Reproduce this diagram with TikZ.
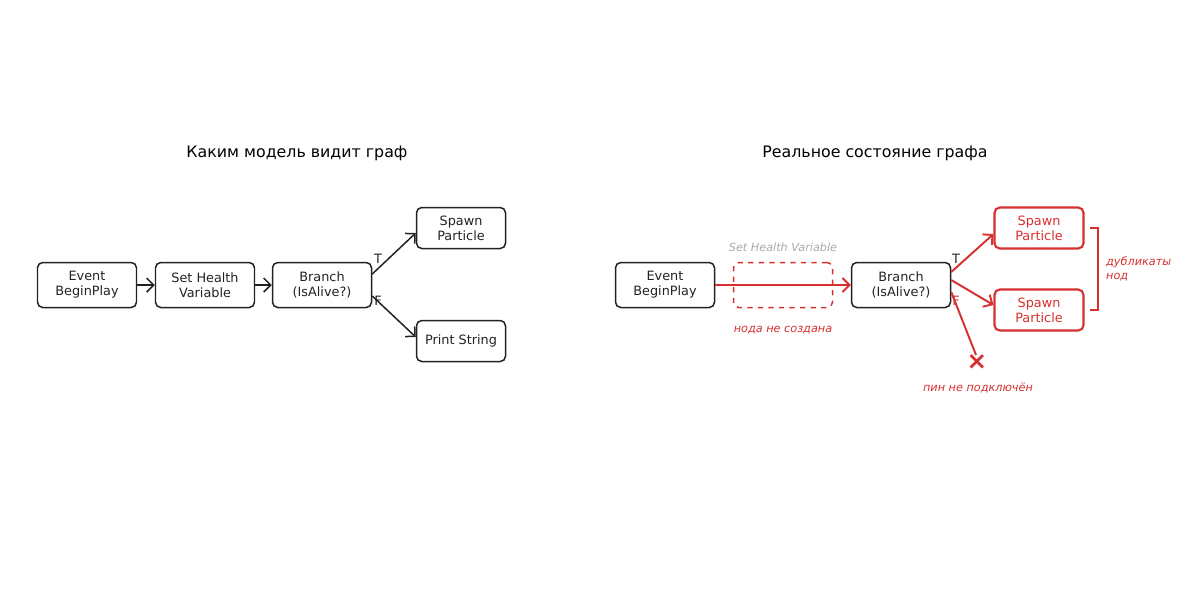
\documentclass[tikz,border=0pt]{standalone}
\usepackage{fontspec}
\setmainfont{DejaVu Sans}
\usetikzlibrary{arrows.meta}
\definecolor{ink}{HTML}{222222}
\definecolor{bad}{HTML}{D62F2F}
\definecolor{ghost}{HTML}{AAAAAA}
\begin{document}
\begin{tikzpicture}[x=0.02cm, y=-0.02cm, font=\fontsize{7.3}{8.6}\selectfont]
	\tikzset{blockStyle/.style = {draw=ink, text=ink, line width=0.85pt, rounded corners=3pt, align=center, minimum width=99*0.02cm, minimum height=45*0.02cm, inner sep=0pt}}
	\tikzset{smallStyle/.style = {blockStyle, minimum width=89*0.02cm, minimum height=41*0.02cm}}
	\tikzset{badStyle/.style = {smallStyle, draw=bad, text=bad, line width=1.2pt}}
	\tikzset{okEdge/.style = {draw=ink, line width=0.85pt, -{Straight Barb[length=4pt]}}}
	\tikzset{badEdge/.style = {draw=bad, line width=1.1pt, -{Straight Barb[length=4pt]}}}
	\tikzset{noteStyle/.style = {font=\fontsize{6.4}{8}\selectfont\itshape, text=bad}}
	\useasboundingbox (0,0) rectangle (1200,600);
	% left side
	\node[font=\fontsize{9}{11}\selectfont] (titleA) at (297,153) {Каким модель видит граф};
	\node[blockStyle] (evA) at (87,285) {Event\\BeginPlay};
	\node[blockStyle] (setA) at (205,285) {Set Health\\Variable};
	\node[blockStyle] (brA) at (322,285) {Branch\\(IsAlive?)};
	\node[smallStyle] (spA) at (461,228) {Spawn\\Particle};
	\node[smallStyle] (prA) at (461,341) {Print String};
	\draw[okEdge] (evA) -- (setA);
	\draw[okEdge] (setA) -- (brA);
	\draw[okEdge] (brA.east |- 0,274) -- (spA.west |- 0,233);
	\draw[okEdge] (brA.east |- 0,296) -- (prA.west |- 0,337);
	\node[text=ink] (tA) at (378,259) {T};
	\node[text=ink] (fA) at (378,301) {F};
	% right side
	\node[font=\fontsize{9}{11}\selectfont] (titleB) at (875,153) {Реальное состояние графа};
	\node[blockStyle] (evB) at (665,285) {Event\\BeginPlay};
	\node[blockStyle, draw=bad, dashed, line width=0.85pt] (setB) at (783,285) {};
	\node[font=\fontsize{6.4}{8}\selectfont\itshape, text=ghost] (ghostB) at (783,247) {Set Health Variable};
	\node[noteStyle] (missB) at (783,330) {нода не создана};
	\node[blockStyle] (brB) at (901,285) {Branch\\(IsAlive?)};
	\node[badStyle] (spB) at (1039,228) {Spawn\\Particle};
	\node[badStyle] (spC) at (1039,310) {Spawn\\Particle};
	\coordinate (loose) at (976,355);
	\node[text=bad, font=\fontsize{14}{14}\selectfont] (cross) at (977,362) {\textbf{×}};
	\node[noteStyle] (pinB) at (978,388) {пин не подключён};
	\draw[badEdge] (evB) -- (brB);
	\draw[badEdge] (brB.east |- 0,272) -- (spB.west |- 0,234);
	\draw[badEdge] (brB.east |- 0,280) -- (spC.west |- 0,305);
	\draw[draw=bad, line width=1.1pt] (brB.east |- 0,292) -- (loose);
	\node[text=ink] (tB) at (956,259) {T};
	\node[text=bad] (fB) at (956,301) {F};
	\draw[draw=bad, line width=0.9pt] (1090,228) -- (1098,228) -- (1098,310) -- (1090,310);
	\node[noteStyle, anchor=west, align=left] (dupB) at (1100,269) {дубликаты\\нод};
\end{tikzpicture}
\end{document}
